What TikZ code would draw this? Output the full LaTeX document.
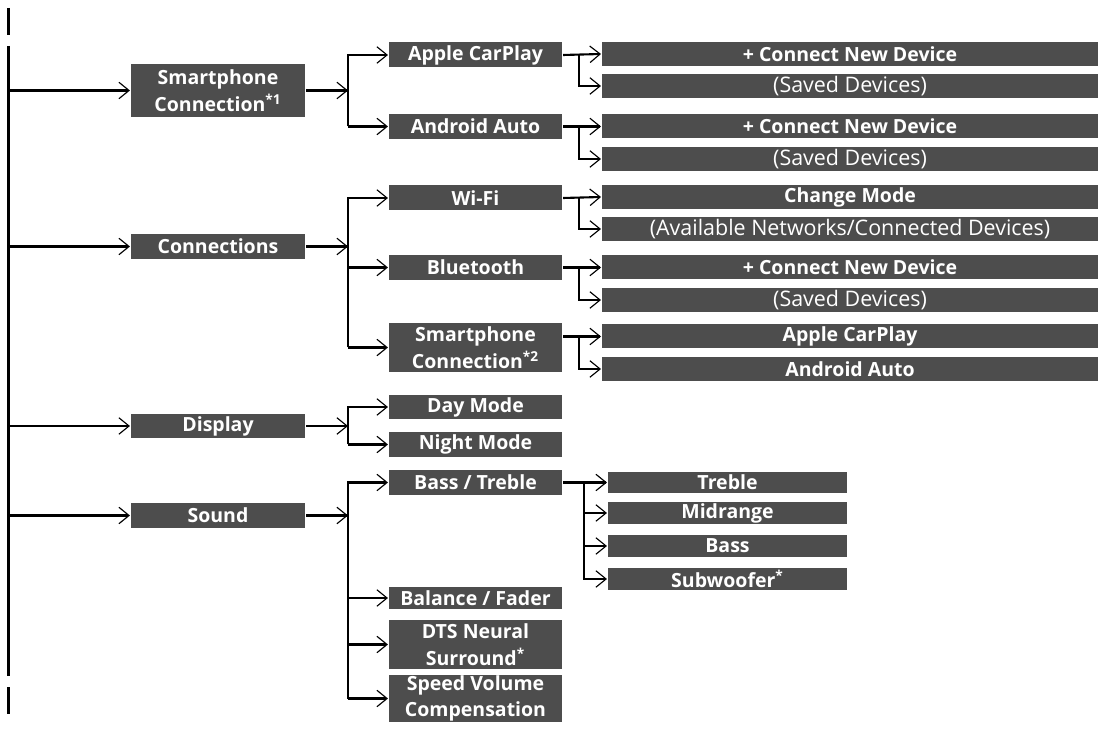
\documentclass[tikz,border=0pt]{standalone}
\usepackage{fontspec}
\setmainfont{Open Sans}
\usetikzlibrary{arrows.meta}
\definecolor{boxgray}{HTML}{4D4D4D}
\tikzset{
  >={Straight Barb[length=5.8pt,width=9.4pt,line width=0.65pt]},
}
\tikzstyle{menu}=[rectangle,fill=boxgray,text=white,inner sep=0pt,align=center,
  font=\fontsize{11.1}{15.2}\selectfont\bfseries,minimum height=0.5cm]
\tikzstyle{lvlone}=[menu,minimum width=3.48cm]
\tikzstyle{lvltwo}=[menu,minimum width=3.46cm]
\tikzstyle{lvlthree}=[menu,minimum width=9.92cm,minimum height=0.48cm]
\tikzstyle{eqitem}=[menu,minimum width=4.78cm,minimum height=0.44cm]
\tikzstyle{plain}=[font=\fontsize{12.2}{15.2}\selectfont\mdseries]
\tikzstyle{link}=[line width=1.2pt]

\begin{document}
\begin{tikzpicture}[x=0.02cm,y=-0.02cm,link]
    \useasboundingbox (0,0) rectangle (1101,732);
    % main trunk
    \coordinate (trunk) at (8.5,0);
    \draw (8.5,8) -- (8.5,35);
    \draw (8.5,46) -- (8.5,676);
    \draw (8.5,687) -- (8.5,714);
    % first level
    \node[lvlone,minimum height=1.06cm] (smart) at (218,90.5) {Smartphone\\Connection\textsuperscript{*1}};
    \node[lvlone] (conn) at (218,246.5) {Connections};
    \node[lvlone] (disp) at (218,426) {Display};
    \node[lvlone] (snd) at (218,515.5) {Sound};
    \draw[->] (trunk |- smart.west) -- (smart.west);
    \draw[->] (trunk |- conn.west) -- (conn.west);
    \draw[->] (trunk |- disp.west) -- (disp.west);
    \draw[->] (trunk |- snd.west) -- (snd.west);
    % second level
    \node[lvltwo] (carplay) at (475.5,55) {Apple CarPlay};
    \node[lvltwo] (android) at (475.5,126.5) {Android Auto};
    \node[lvltwo] (wifi) at (475.5,198) {Wi-Fi};
    \node[lvltwo] (bt) at (475.5,267.5) {Bluetooth};
    \node[lvltwo,minimum height=0.98cm] (smarttwo) at (475.5,347.5) {Smartphone\\Connection\textsuperscript{*2}};
    \node[lvltwo] (day) at (475.5,407) {Day Mode};
    \node[lvltwo] (night) at (475.5,444.5) {Night Mode};
    \node[lvltwo] (basstreble) at (475.5,482.5) {Bass / Treble};
    \node[lvltwo,minimum height=0.46cm] (balance) at (475.5,598) {Balance / Fader};
    \node[lvltwo,minimum height=0.98cm] (dts) at (475.5,644.5) {DTS Neural\\Surround\textsuperscript{*}};
    \node[lvltwo,minimum height=0.94cm] (speed) at (475.5,698.5) {Speed Volume\\Compensation};
    % branches from first level
    \coordinate (ba) at (348,0);
    \draw[->] (smart.east) -- (ba |- smart.east);
    \draw[->] (ba |- android.west) |- (carplay.west);
    \draw[->] (ba |- android.west) -- (android.west);
    \draw[->] (conn.east) -- (ba |- conn.east);
    \draw[->] (ba |- smarttwo.west) |- (wifi.west);
    \draw[->] (ba |- bt.west) -- (bt.west);
    \draw[->] (ba |- smarttwo.west) -- (smarttwo.west);
    \draw[->] (disp.east) -- (ba |- disp.east);
    \draw[->] (ba |- night.west) |- (day.west);
    \draw[->] (ba |- night.west) -- (night.west);
    \draw[->] (snd.east) -- (ba |- snd.east);
    \draw[->] (ba |- speed.west) |- (basstreble.west);
    \draw[->] (ba |- balance.west) -- (balance.west);
    \draw[->] (ba |- dts.west) -- (dts.west);
    \draw[->] (ba |- speed.west) -- (speed.west);
    % third level
    \node[lvlthree] (cpnew) at (850,54) {+ Connect New Device};
    \node[lvlthree,plain] (cpsaved) at (850,86) {(Saved Devices)};
    \node[lvlthree] (aanew) at (850,126.5) {+ Connect New Device};
    \node[lvlthree,plain] (aasaved) at (850,159) {(Saved Devices)};
    \node[lvlthree] (wfmode) at (850,197) {Change Mode};
    \node[lvlthree,plain] (wfavail) at (850,229) {(Available Networks/Connected Devices)};
    \node[lvlthree] (btnew) at (850,267.5) {+ Connect New Device};
    \node[lvlthree,plain] (btsaved) at (850,300) {(Saved Devices)};
    \node[lvlthree] (spcarplay) at (850,336.5) {Apple CarPlay};
    \node[lvlthree] (spandroid) at (850,369) {Android Auto};
    \coordinate (bb) at (579,0);
    \draw[->] (carplay.east) -- (cpnew.west);
    \draw[->] (bb |- carplay.east) |- (cpsaved.west);
    \draw[->] (android.east) -- (aanew.west);
    \draw[->] (bb |- android.east) |- (aasaved.west);
    \draw[->] (wifi.east) -- (wfmode.west);
    \draw[->] (bb |- wifi.east) |- (wfavail.west);
    \draw[->] (bt.east) -- (btnew.west);
    \draw[->] (bb |- bt.east) |- (btsaved.west);
    \draw[->] (smarttwo.east |- spcarplay.west) -- (spcarplay.west);
    \draw[->] (bb |- spcarplay.west) |- (spandroid.west);
    % sound settings
    \node[eqitem] (treble) at (727.5,482.5) {Treble};
    \node[eqitem] (midrange) at (727.5,513) {Midrange};
    \node[eqitem] (bass) at (727.5,546) {Bass};
    \node[eqitem] (subwoofer) at (727.5,579) {Subwoofer\textsuperscript{*}};
    \coordinate (bc) at (584,0);
    \draw[->] (basstreble.east) -- (treble.west);
    \draw[->] (bc |- basstreble.east) |- (subwoofer.west);
    \draw[->] (bc |- midrange.west) -- (midrange.west);
    \draw[->] (bc |- bass.west) -- (bass.west);
\end{tikzpicture}
\end{document}
